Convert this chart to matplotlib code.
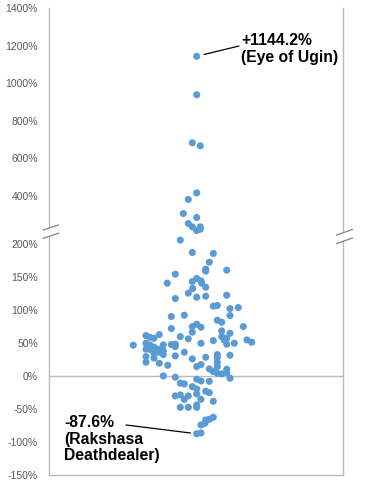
import numpy as np
import matplotlib
matplotlib.use('Agg')
import matplotlib.pyplot as plt
from matplotlib.lines import Line2D
from matplotlib.patches import Polygon

# horizontal jitter (px offset from the middle) and price change in %
jitter = [0.7, 0.7, -3.7, 4.3, 0.7, -7.7, -12.7, 0.7, -7.7, -3.7, 4.3, 4.3, 0.7,
          -15.7, -3.7, 17.3, 13.3, 9.7, 9.7, 30.7, -20.7, -28.7, -3.7, 0.7, 5.0, 5.7, 9.7,
          -3.3, -7.7, 0.7, 9.7, 30.7, -20.7, 17.3, 21.3, 34.0, 42.3, -24.7, -11.7, 34.0,
          21.3, 25.7, 47.3, -24.7, -3.7, 0.7, 5.0, -3.7, 25.7, 34.0, 30.7, 25.7, 28.3,
          -50.0, -46.0, -42.0, -36.7, -15.7, -7.7, 17.3, 51.0, 55.7, -62.7, -50.0, -46.0,
          -50.0, -46.0, -42.0, -37.7, -32.7, -24.7, -20.7, -20.7, 5.0, 30.7, 38.3, -42.0,
          -37.7, -32.7, -32.7, -11.7, -50.0, -42.0, -20.7, -3.7, 9.7, 21.3, 21.3, 34.0,
          -50.0, -36.7, -28.3, 0.7, 5.0, 13.3, 21.3, 21.3, 17.3, 21.3, 25.7, 30.7, 30.7,
          34.0, -32.7, -20.7, 0.7, 5.0, -15.7, -11.7, 13.3, -3.7, 0.7, 0.7, 9.7, 13.3,
          -20.7, -15.7, -11.7, -7.7, 5.0, -15.7, -7.7, 0.7, 0.7, 17.3, 17.3, 13.3, 9.7,
          9.0, 5.0, 0.7, 5.0]
change = [1144.2, 939, 683, 667, 416, 381, 306, 285, 253, 235, 235, 222.3, 220,
          205.6, 186.9, 185.4, 172.2, 161.6, 158.6, 160.1, 154.0, 140.4, 142.9, 147.5, 143.9, 140.4, 134.3,
          132.3, 125.3, 119.2, 120.7, 122.2, 117.2, 105.6, 106.6, 102.0, 103.5, 89.9, 91.9, 91.4,
          84.3, 81.3, 74.7, 71.7, 74.7, 78.3, 73.7, 66.2, 68.2, 64.6, 57.1, 59.6, 54.5,
          61.1, 58.6, 57.1, 62.6, 59.6, 56.1, 53.5, 54.5, 51.0, 46.5, 49.5, 47.0,
          40.4, 40.4, 43.4, 40.4, 47.0, 47.5, 48.0, 44.4, 49.5, 48.0, 49.5, 34.3,
          35.9, 32.3, 38.4, 35.9, 29.3, 26.8, 30.3, 25.8, 28.3, 32.3, 27.8, 31.3,
          20.7, 19.2, 16.2, 14.1, 17.2, 10.6, 20.7, 14.1, 6.6, 4.0, 3.0, 5.1, 10.1,
          -3.5, 0.0, -2.0, -5.1, -7.6, -11.1, -12.1, -8.1, -16.2, -19.7, -27.3, -23.2, -25.3,
          -30.3, -28.8, -35.4, -30.3, -35.4, -47.5, -47.5, -43.9, -47.5, -38.4, -62.6, -65.7, -66.7,
          -71.7, -74.2, -87.6, -86.4]

ticks = [-150, -100, -50, 0, 50, 100, 150, 200, 400, 600, 800, 1000, 1200, 1400]

# y axis is compressed above the break
B = 222.0
K = 0.284


def fwd(v):
    v = np.asarray(v, dtype=float)
    return np.where(v > B, B + (v - B) * K, v)


def inv(u):
    u = np.asarray(u, dtype=float)
    return np.where(u > B, B + (u - B) / K, u)


W, H = 365, 484
fig = plt.figure(figsize=(W / 100, H / 100), dpi=100)
ax = fig.add_axes([49 / W, 9 / H, 294 / W, 466.7 / H])

ax.set_yscale('function', functions=(fwd, inv))
ax.set_ylim(-150, 1400)
ax.set_xlim(-147, 147)

gray = '#bcbcbc'
ax.axhline(0, color=gray, lw=1, zorder=1)
ax.scatter(jitter, change, s=26, color='#5b9bd5', edgecolors='none', zorder=3)

ax.set_yticks(ticks)
ax.set_yticklabels([f'{t}%' for t in ticks], fontfamily='Liberation Sans',
                   fontsize=7.5, color='#595959')
ax.tick_params(axis='y', length=0, pad=8)
ax.set_xticks([])
ax.spines['top'].set_visible(False)
for side in ['left', 'right', 'bottom']:
    ax.spines[side].set_color(gray)
    ax.spines[side].set_linewidth(1)


def px(x, y):
    return (x / W, 1 - y / H)


def brk(x0, x1, up0, up1, lo0, lo1):
    poly = Polygon([px(x0, up0), px(x1, up1), px(x1, lo1), px(x0, lo0)],
                   closed=True, transform=fig.transFigure, facecolor='white',
                   edgecolor='none', zorder=5)
    fig.add_artist(poly)
    for a, b in [(up0, up1), (lo0, lo1)]:
        p0, p1 = px(x0, a), px(x1, b)
        fig.add_artist(Line2D([p0[0], p1[0]], [p0[1], p1[1]], transform=fig.transFigure,
                              color='#8c8c8c', lw=1, zorder=6))


brk(43.3, 58.3, 230.0, 225.0, 238.3, 233.3)
brk(336.7, 352.3, 235.0, 229.5, 243.5, 238.0)

# labels for the two extremes
font = dict(fontfamily='Liberation Sans', fontsize=11.3, fontweight='bold',
            color='black', va='top', ha='left', linespacing=1.13)
fig.text(241 / W, 1 - 33 / H, '+1144.2%\n(Eye of Ugin)', **font)
fig.text(64 / W, 1 - 415 / H, '-87.6%\n(Rakshasa\nDeathdealer)', **font)

ax.annotate('', xy=(jitter[0], change[0]), xytext=(239, H - 46), textcoords='figure pixels',
            arrowprops=dict(arrowstyle='-', color='black', lw=0.9, shrinkA=0, shrinkB=5.5))
i_low = change.index(-87.6)
ax.annotate('', xy=(jitter[i_low], change[i_low]), xytext=(126, H - 425),
            textcoords='figure pixels',
            arrowprops=dict(arrowstyle='-', color='black', lw=0.9, shrinkA=0, shrinkB=4.5))

fig.savefig('out.png', dpi=100)
